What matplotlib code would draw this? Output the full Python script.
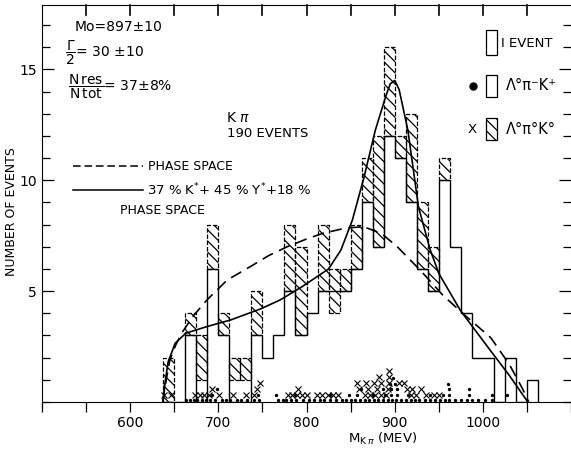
import numpy as np
import matplotlib
matplotlib.use('Agg')
import matplotlib.pyplot as plt

# -----------------------------
# Données
# -----------------------------
bin_w = 12.5
bin_lo = np.arange(637.5, 1050.1, bin_w)          # bords gauches des bins (MeV)

# histogramme ouvert (Lambda pi- K+)
open_n = [0, 0, 3, 0, 6, 3, 0, 0, 3, 2, 3, 5, 3, 4, 5, 5, 5,
          6, 9, 7, 12, 11, 9, 6, 5, 10, 7, 4, 2, 2, 0, 2, 0, 1]
# boites hachurees (Lambda pi0 K0) : bas / haut
hatch_lo = [0, 0, 3, 1, 6, 3, 1, 1, 3, 0, 0, 5, 3, 0, 5, 4, 5,
            6, 9, 7, 12, 11, 9, 6, 5, 10, 0, 0, 0, 0, 0, 0, 0, 0]
hatch_hi = [2, 0, 4, 3, 8, 4, 2, 2, 5, 0, 0, 8, 7, 0, 8, 6, 6,
            8, 11, 12, 16, 12, 13, 9, 7, 11, 0, 0, 0, 0, 0, 0, 0, 0]

# courbe espace de phase (tirets)
ps_m = [637, 640, 645, 652, 660, 672, 687, 710, 736, 757, 778, 800, 818,
        845, 865, 885, 903, 930, 955, 980, 1009, 1030, 1045, 1052]
ps_n = [0, 0.8, 1.9, 2.6, 3.2, 3.9, 4.6, 5.5, 6.1, 6.6, 7.0, 7.35, 7.6,
        7.85, 7.9, 7.6, 7.0, 5.9, 4.8, 3.9, 2.9, 1.7, 0.6, 0]

# ajustement 37% K* + 45% Y* + 18% espace de phase
fit_m = [637, 640, 643, 651, 663, 687, 714, 748, 770, 795, 825, 839, 852,
         865, 878, 890, 895, 900, 905, 915, 927, 940, 950, 975, 1009, 1030, 1051]
fit_n = [0, 1.0, 1.8, 2.65, 3.1, 3.4, 3.7, 4.2, 4.6, 5.2, 6.0, 6.85, 8.2,
         10.1, 12.25, 13.8, 14.35, 14.5, 14.1, 12.25, 8.8, 6.9, 5.8, 4.1, 2.3, 1.2, 0]

# evenements individuels : masse et rang d'empilement
x_mass = [638, 646, 674, 679, 684, 689, 701, 717, 731, 741, 779, 784, 789, 795,
          800, 812, 818, 824, 830, 836, 866, 872, 878, 884, 890, 918, 924, 935,
          945, 950, 693, 744, 790, 860, 870, 880, 892, 914, 920, 930, 747, 857,
          867, 877, 884, 893, 905, 911, 882, 893, 893]
x_row = [0] * 30 + [1] * 10 + [2] * 8 + [3] * 2 + [4]

dot_mass = [663, 668, 672, 676, 681, 686, 691, 696, 704, 709, 713, 721, 726, 733,
            740, 746, 768, 773, 777, 782, 788, 796, 803, 808, 815, 820, 827, 833,
            840, 845, 850, 855, 861, 866, 871, 876, 881, 887, 892, 897, 902, 907,
            913, 918, 923, 928, 934, 940, 946, 951, 957, 962, 968, 975, 982, 988,
            994, 1002, 1010,
            693, 745, 765, 787, 827, 848, 857, 875, 889, 896, 903, 915, 940, 955,
            962, 984, 1010, 1027,
            698, 862, 887, 896, 903, 962, 984,
            895, 900, 961, 898]
dot_row = [0] * 59 + [1] * 18 + [2] * 7 + [3] * 3 + [4]

# -----------------------------
# Figure
# -----------------------------
plt.rcParams['hatch.linewidth'] = 0.9
fig = plt.figure(figsize=(5.71, 4.5), dpi=100)
ax = fig.add_axes([0.0736, 0.1067, 0.9264, 0.882])

edges = np.append(bin_lo, bin_lo[-1] + bin_w)
ax.stairs(open_n, edges, color='black', linewidth=1.0)

h_lo = np.array(hatch_lo, dtype=float)
h_hi = np.array(hatch_hi, dtype=float)
m = h_hi > h_lo
ax.bar(bin_lo[m], (h_hi - h_lo)[m], bottom=h_lo[m], width=bin_w, align='edge',
       fill=False, hatch='\\\\\\', edgecolor='black', linewidth=0.9,
       linestyle=(0, (3.5, 1.5)))

ax.plot(ps_m, ps_n, color='black', linewidth=1.2, linestyle=(0, (7, 4)))
ax.plot(fit_m, fit_n, color='black', linewidth=1.2)

ax.plot(x_mass, 0.3 + 0.27 * np.array(x_row), 'x', color='black', ms=4, mew=0.8,
        clip_on=False)
ax.plot(dot_mass, 0.07 + 0.25 * np.array(dot_row), 'o', color='black', ms=1.4,
        clip_on=False)

ax.set_xlim(500, 1100)
ax.set_ylim(0, 17.9)

# ticks
top_ticks = np.arange(550, 1051, 50)
ax.set_xticks([600, 700, 800, 900, 1000])
ax.set_xticks(np.arange(500, 1101, 50), minor=True)
ax.tick_params(axis='x', which='both', direction='out', length=7, width=0.9,
               labelsize=10, pad=3, top=False)
ax.set_yticks([5, 10, 15])
ax.set_yticks(np.arange(0, 18, 1), minor=True)
ax.tick_params(axis='y', which='major', direction='in', length=8.5, width=0.9,
               labelsize=10, left=True, right=True)
ax.tick_params(axis='y', which='minor', direction='in', length=5.5, width=0.9,
               left=True, right=True)
ax.spines['right'].set_visible(False)

# graduations du haut, vers l'interieur
for xt in top_ticks:
    ax.plot([xt, xt], [17.9, 17.45], color='black', linewidth=1.2, clip_on=False)

ax.set_ylabel('NUMBER OF EVENTS', fontsize=9)
ax.yaxis.set_label_coords(-0.045, 0.48)
ax.set_xlabel(r'M$_{\mathrm{K}\,\pi}$ (MEV)', fontsize=9.5)
ax.xaxis.set_label_coords(0.644, -0.072)

# annotations
tr = ax.transAxes
ax.text(0.0625, 0.945, 'Mo=897±10', fontsize=10, transform=tr, va='center')
ax.text(0.043, 0.879, r'$\dfrac{\Gamma}{2}$= 30 ±10', fontsize=10,
        transform=tr, va='center')
ax.text(0.049, 0.793, r'$\dfrac{\mathrm{N\,res}}{\mathrm{N\,tot}}$= 37±8%', fontsize=10,
        transform=tr, va='center')
ax.text(0.347, 0.715, r'K $\pi$', fontsize=10, transform=tr, va='center')
ax.text(0.350, 0.676, '190 EVENTS', fontsize=9.5, transform=tr, va='center')

ax.plot([0.059, 0.191], [0.594, 0.594], transform=tr, color='black',
        linewidth=1.1, linestyle=(0, (5, 2.5)))
ax.text(0.201, 0.594, 'PHASE SPACE', fontsize=9, transform=tr, va='center')
ax.plot([0.059, 0.191], [0.534, 0.534], transform=tr, color='black', linewidth=1.1)
ax.text(0.199, 0.534, r'37 % K$^{*}$+ 45 % Y$^{*}$+18 %', fontsize=9.5,
        transform=tr, va='center')
ax.text(0.148, 0.482, 'PHASE SPACE', fontsize=9, transform=tr, va='center')

# legende en haut a droite
ax.add_patch(plt.Rectangle((0.839, 0.874), 0.021, 0.063, transform=tr,
                           fill=False, edgecolor='black', linewidth=0.9))
ax.text(0.868, 0.904, 'I EVENT', fontsize=9.5, transform=tr, va='center')
ax.add_patch(plt.Rectangle((0.839, 0.768), 0.022, 0.055, transform=tr,
                           fill=False, edgecolor='black', linewidth=0.9))
ax.plot([0.814], [0.796], 'o', color='black', ms=5, transform=tr)
ax.text(0.877, 0.798, 'Λ°π⁻K⁺', fontsize=10.5, transform=tr, va='center')
ax.add_patch(plt.Rectangle((0.839, 0.660), 0.022, 0.055, transform=tr,
                           fill=False, hatch='\\\\\\', edgecolor='black',
                           linewidth=0.9))
ax.text(0.814, 0.687, 'X', fontsize=9.5, transform=tr, va='center', ha='center')
ax.text(0.877, 0.687, 'Λ°π°K°', fontsize=10.5, transform=tr, va='center')

fig.savefig('out.png', dpi=100)
